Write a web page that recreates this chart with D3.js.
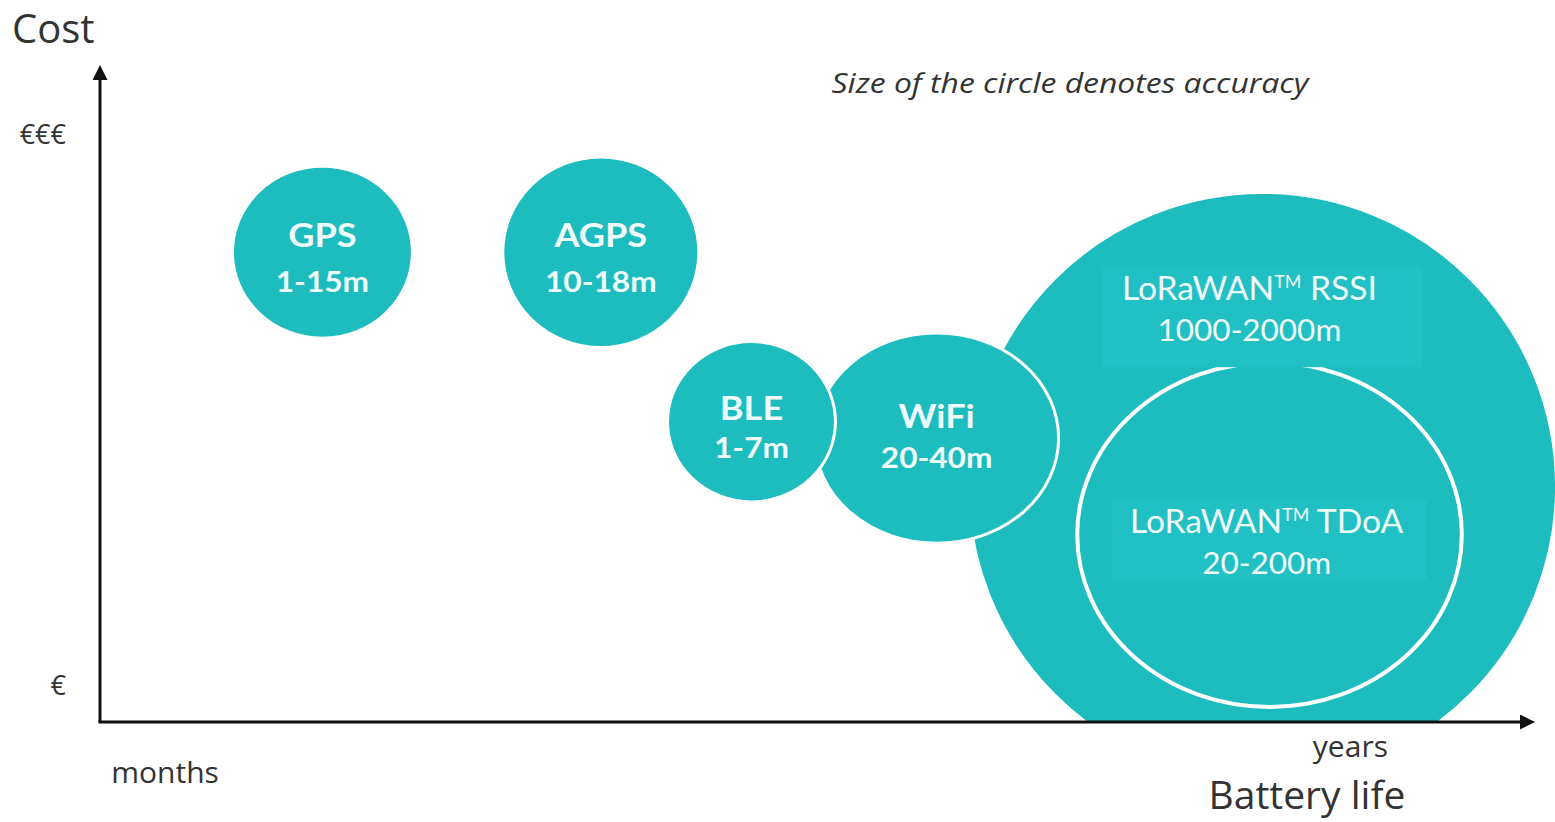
<!DOCTYPE html>
<html>
<head>
<meta charset="utf-8">
<script src="https://cdn.jsdelivr.net/npm/d3@7/dist/d3.min.js"></script>
<style>
  body { margin: 0; background: #fff; }
  svg { display: block; font-family: Lato, "Open Sans", sans-serif; }
</style>
</head>
<body>
<div id="chart"></div>
<script>
// technologies, battery life (0-100) and cost (0-100) of the bubble centre
var techNames   = ["LoRaWAN RSSI", "LoRaWAN TDoA", "WiFi", "BLE", "GPS", "AGPS"];
var batteryLife = [81.0, 81.5, 58.3, 45.4, 15.5, 34.9];
var cost        = [35.8, 28.5, 43.2, 45.7, 71.5, 71.5];
// size of the circle (accuracy), as extent along each axis
var sizeLife    = [20.5, 13.4, 8.5, 5.85, 6.27, 6.83];
var sizeCost    = [44.8, 26.2, 16.0, 12.2, 13.1, 14.5];
var accuracy    = ["1000-2000m", "20-200m", "20-40m", "1-7m", "1-15m", "10-18m"];

var yTickValues = [5.5, 89.3];
var yTickLabels = ["€", "€€€"];
var xTickValues = [4.5, 87.1];
var xTickLabels = ["months", "years"];

var w = 1555, h = 822;
var teal = "#1dbdbf";
var axisFont = "'Open Sans', sans-serif";

var svg = d3.select("#chart").append("svg")
  .attr("width", w)
  .attr("height", h);

var x = d3.scaleLinear().domain([0, 100]).range([100, 1535]);
var y = d3.scaleLinear().domain([0, 100]).range([722, 65]);

var defs = svg.append("defs");
defs.append("clipPath").attr("id", "plotclip")
  .append("rect").attr("x", 0).attr("y", 0).attr("width", w).attr("height", y(0));
defs.append("marker")
  .attr("id", "arrow")
  .attr("viewBox", "0 0 10 10")
  .attr("refX", 2).attr("refY", 5)
  .attr("markerWidth", 5).attr("markerHeight", 5)
  .attr("orient", "auto")
  .append("path").attr("d", "M0,0 L10,5 L0,10 z").attr("fill", "#111");

var bubbles = techNames.map(function(n, i){
  return { name: n, life: batteryLife[i], cost: cost[i], sl: sizeLife[i], sc: sizeCost[i], acc: accuracy[i] };
});

var plot = svg.append("g").attr("clip-path", "url(#plotclip)");

plot.selectAll("ellipse")
  .data(bubbles)
  .enter()
  .append("ellipse")
  .attr("cx", function(d){ return x(d.life); })
  .attr("cy", function(d){ return y(d.cost); })
  .attr("rx", function(d){ return x(d.sl) - x(0); })
  .attr("ry", function(d){ return y(0) - y(d.sc); })
  .attr("fill", function(d){ return d.name == "LoRaWAN TDoA" ? "none" : teal; })
  .attr("stroke", "#fff")
  .attr("stroke-width", function(d){ return d.name == "LoRaWAN TDoA" ? 4 : 3; });

// small bubbles: bold name + accuracy, centred (picture is a bit wide, so stretch text)
var small = bubbles.filter(function(d){ return d.name.indexOf("LoRaWAN") < 0; });
var smallOffsets = { "WiFi": [-10, 30], "BLE": [-2, 36], "GPS": [-5, 40], "AGPS": [-5, 40] };

small.forEach(function(d){
  var g = svg.append("g")
    .attr("transform", "translate(" + x(d.life) + "," + y(d.cost) + ") scale(1.13,1)")
    .attr("fill", "#effbfb").attr("font-weight", "bold").attr("text-anchor", "middle");
  g.append("text")
    .attr("y", smallOffsets[d.name][0])
    .attr("font-size", 32)
    .text(d.name);
  g.append("text")
    .attr("y", smallOffsets[d.name][1])
    .attr("font-size", 28)
    .text(d.acc);
});

// LoRaWAN labels sit in a lighter box
var loraLabels = [
  { name: "LoRaWAN RSSI", tech: "RSSI", lx: 80.1, ly: 64.2, boxW: 320, boxTop: 33, boxBottom: 67 },
  { name: "LoRaWAN TDoA", tech: "TDoA", lx: 81.3, ly: 28.8, boxW: 315, boxTop: 33, boxBottom: 47 }
];

loraLabels.forEach(function(l){
  var b = bubbles.filter(function(d){ return d.name == l.name; })[0];
  var bx = x(b.life);
  var by = y(l.ly);
  svg.append("rect")
    .attr("x", bx - l.boxW / 2)
    .attr("y", by - l.boxTop)
    .attr("width", l.boxW)
    .attr("height", l.boxTop + l.boxBottom)
    .attr("fill", "#21c0c4");
  var g = svg.append("g")
    .attr("transform", "translate(" + x(l.lx) + "," + by + ") scale(1.05,1)")
    .attr("text-anchor", "middle")
    .attr("fill", "#effbfb");
  var t = g.append("text").attr("font-size", 32);
  t.append("tspan").text("LoRaWAN");
  t.append("tspan").attr("font-size", 17).attr("dy", -12).text("TM");
  t.append("tspan").attr("dy", 12).text(" " + l.tech);
  g.append("text")
    .attr("y", 41)
    .attr("font-size", 30)
    .text(b.acc);
});

// axes
var yAxis = d3.axisLeft(y)
  .tickValues(yTickValues)
  .tickFormat(function(d, i){ return yTickLabels[i]; })
  .tickSize(0)
  .tickPadding(34);

var xAxis = d3.axisBottom(x)
  .tickValues(xTickValues)
  .tickFormat(function(d, i){ return xTickLabels[i]; })
  .tickSize(0)
  .tickPadding(0);

var gy = svg.append("g").attr("transform", "translate(" + x(0) + ",0)").call(yAxis);
var gx = svg.append("g").attr("transform", "translate(0," + y(0) + ")").call(xAxis);

[gx, gy].forEach(function(g){
  g.select(".domain").remove();
  g.selectAll("text")
    .attr("fill", "#333")
    .attr("font-family", axisFont);
});
gy.selectAll("text").attr("font-size", 27);
gx.selectAll("text").attr("font-size", 30)
  .attr("dy", null)
  .attr("y", function(d, i){ return i == 0 ? 61 : 35; });

svg.append("line")
  .attr("x1", x(0)).attr("y1", y(0))
  .attr("x2", x(0)).attr("y2", y(100) + 12)
  .attr("stroke", "#111").attr("stroke-width", 3)
  .attr("marker-end", "url(#arrow)");
svg.append("line")
  .attr("x1", x(0) - 1.5).attr("y1", y(0))
  .attr("x2", x(100) - 12).attr("y2", y(0))
  .attr("stroke", "#111").attr("stroke-width", 3)
  .attr("marker-end", "url(#arrow)");

svg.append("text")
  .attr("x", 12).attr("y", 43)
  .attr("font-family", axisFont)
  .attr("font-size", 40).attr("fill", "#333")
  .text("Cost");

svg.append("text")
  .attr("x", 1307).attr("y", 809)
  .attr("text-anchor", "middle")
  .attr("font-family", axisFont)
  .attr("font-size", 39).attr("fill", "#333")
  .text("Battery life");

svg.append("text")
  .attr("transform", "translate(1070,93) scale(1.18,1)")
  .attr("text-anchor", "middle")
  .attr("font-family", axisFont)
  .attr("font-size", 27).attr("font-style", "italic").attr("fill", "#333")
  .text("Size of the circle denotes accuracy");
</script>
</body>
</html>
